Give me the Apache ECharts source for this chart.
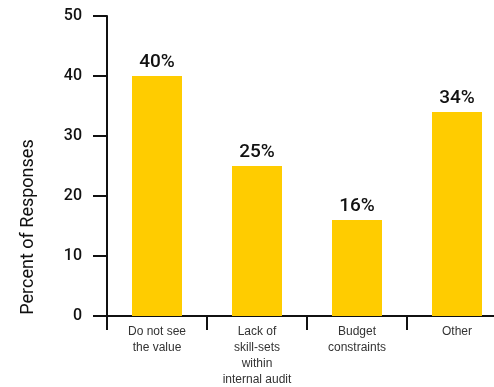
<!DOCTYPE html>
<html>
<head>
<meta charset="utf-8">
<script src="https://cdn.jsdelivr.net/npm/echarts@6/dist/echarts.min.js"></script>
<style>
  html, body { margin: 0; padding: 0; background: #fff; }
  #chart { width: 494px; height: 387px; }
</style>
</head>
<body>
<div id="chart"></div>
<script>
// Reasons given for not using the service
const categories = ['Do not see\nthe value', 'Lack of\nskill-sets\nwithin\ninternal audit', 'Budget\nconstraints', 'Other'];
const percentValues = [40, 25, 16, 34];
const yTicks = [0, 10, 20, 30, 40, 50];
const yAxisTitle = 'Percent of Responses';

const labelFont = '"Liberation Sans", Arial, sans-serif';
const headFont = 'Roboto, "Liberation Sans", sans-serif';
const chart = echarts.init(document.getElementById('chart'), null, { renderer: 'canvas' });

chart.setOption({
  animation: false,
  backgroundColor: '#ffffff',
  grid: { left: 107, right: -13, top: 16, bottom: 71, containLabel: false, outerBoundsMode: 'none' },
  xAxis: {
    type: 'category',
    data: categories,
    boundaryGap: true,
    axisLine: { lineStyle: { color: '#111', width: 2 } },
    axisTick: { show: true, length: 14, alignWithLabel: false, lineStyle: { color: '#111', width: 2 } },
    axisLabel: {
      interval: 0, margin: 8, color: '#333', fontFamily: labelFont, fontSize: 12, lineHeight: 16
    },
    splitLine: { show: false }
  },
  yAxis: {
    type: 'value',
    min: yTicks[0],
    max: yTicks[yTicks.length - 1],
    interval: 10,
    axisLine: { show: true, lineStyle: { color: '#111', width: 2 } },
    axisTick: { show: true, length: 14, inside: false, lineStyle: { color: '#111', width: 2 } },
    axisLabel: { margin: 25, color: '#111', fontFamily: headFont, fontSize: 16, fontWeight: 500 },
    splitLine: { show: false }
  },
  graphic: [{
    type: 'text',
    x: 28,
    y: 227,
    rotation: Math.PI / 2,
    style: {
      text: yAxisTitle,
      fill: '#111',
      font: '18px ' + headFont,
      textAlign: 'center',
      textVerticalAlign: 'middle'
    }
  }],
  series: [{
    type: 'bar',
    data: percentValues,
    barWidth: '50%',
    itemStyle: { color: '#FFCC00' },
    label: {
      show: true,
      position: 'top',
      distance: 4,
      formatter: '{c}%',
      color: '#111',
      fontFamily: headFont,
      fontSize: 19,
      fontWeight: 500
    }
  }]
});
</script>
</body>
</html>
